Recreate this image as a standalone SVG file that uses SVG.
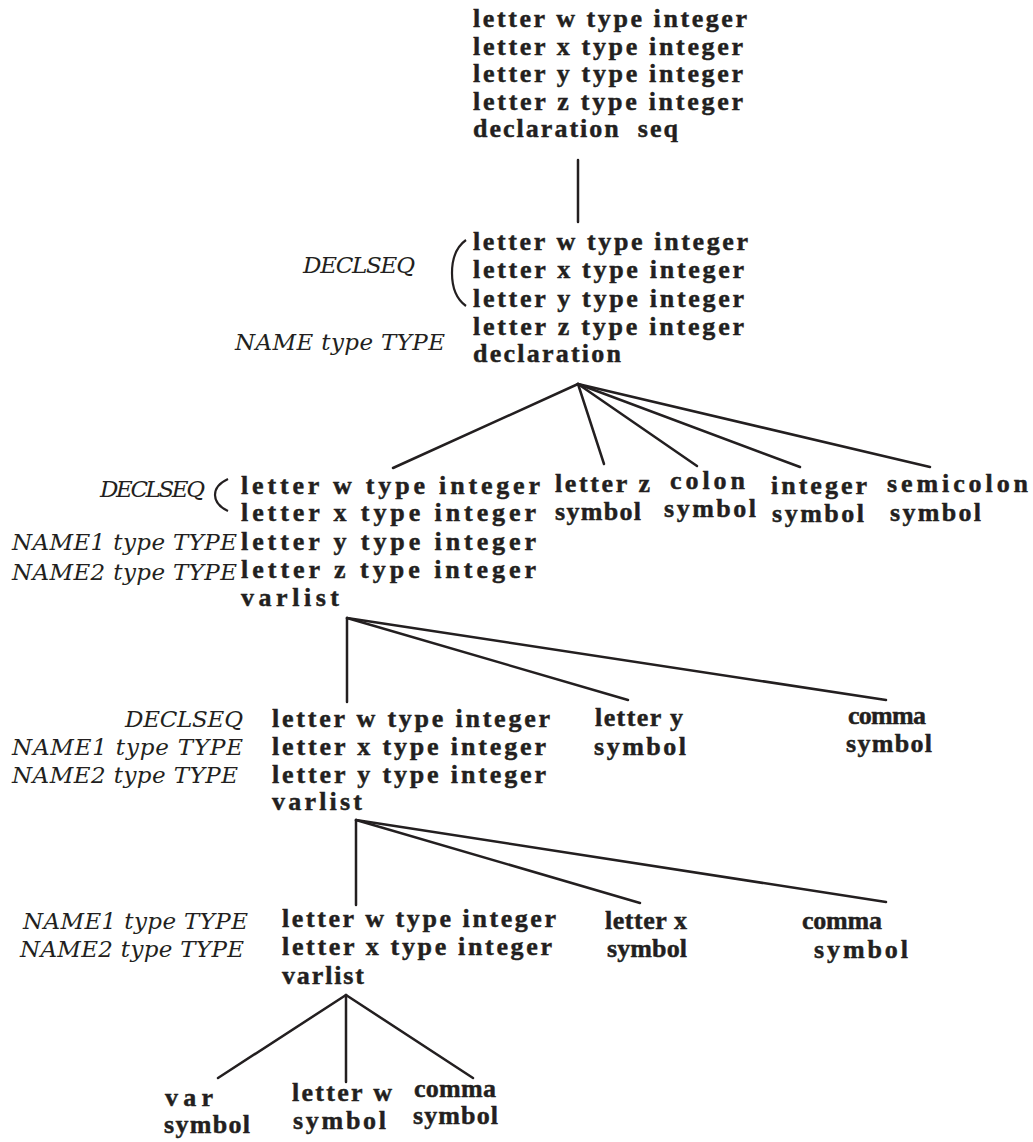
<svg xmlns="http://www.w3.org/2000/svg" width="1033" height="1142" viewBox="0 0 1033 1142">
<style>
.b{font-family:"Liberation Serif",serif;font-weight:bold;font-size:26px;fill:#231f20;stroke:#231f20;stroke-width:0.45}
.i{font-family:"DejaVu Serif",serif;font-style:italic;font-size:23px;fill:#231f20}
.c{stroke:#231f20;stroke-width:2.5;fill:none;stroke-linecap:round}
.p{stroke:#231f20;stroke-width:2.2;fill:none}
</style>
<rect width="1033" height="1142" fill="#fff"/>
<g id="connectors" class="c">
<line x1="578" y1="160" x2="578" y2="222"/>
<line x1="578" y1="384" x2="393" y2="468"/>
<line x1="578" y1="384" x2="604" y2="464"/>
<line x1="578" y1="384" x2="697" y2="466"/>
<line x1="578" y1="384" x2="800" y2="467"/>
<line x1="578" y1="384" x2="930" y2="467"/>
<line x1="347" y1="618" x2="347" y2="702"/>
<line x1="347" y1="618" x2="628" y2="700"/>
<line x1="347" y1="618" x2="886" y2="700"/>
<line x1="356" y1="820" x2="356" y2="905"/>
<line x1="356" y1="820" x2="640" y2="903"/>
<line x1="356" y1="820" x2="886" y2="902"/>
<line x1="346" y1="995" x2="218" y2="1078"/>
<line x1="346" y1="995" x2="346" y2="1082"/>
<line x1="346" y1="995" x2="473" y2="1078"/>
</g>
<g id="n-top">
<text class="b" x="473" y="27" textLength="274">letter w type integer</text>
<text class="b" x="473" y="55" textLength="270">letter x type integer</text>
<text class="b" x="473" y="82" textLength="270">letter y type integer</text>
<text class="b" x="473" y="110" textLength="270">letter z type integer</text>
<text class="b" x="473" y="137" textLength="205" xml:space="preserve">declaration  seq</text>
</g>
<g id="n-decl">
<text class="i" x="303" y="273" textLength="112">DECLSEQ</text>
<path class="p" d="M466 240 Q452 250 452 273 Q452 296 466 306"/>
<text class="i" x="235" y="350" textLength="210">NAME type TYPE</text>
<text class="b" x="473" y="250" textLength="275">letter w type integer</text>
<text class="b" x="473" y="278" textLength="271">letter x type integer</text>
<text class="b" x="473" y="307" textLength="271">letter y type integer</text>
<text class="b" x="473" y="335" textLength="271">letter z type integer</text>
<text class="b" x="473" y="362" textLength="148">declaration</text>
</g>
<g id="n-varlist1">
<text class="i" x="100" y="497" textLength="105">DECLSEQ</text>
<path class="p" d="M228 479 Q215 485 215 495 Q215 505 228 511"/>
<text class="i" x="12" y="550" textLength="225">NAME1 type TYPE</text>
<text class="i" x="12" y="580" textLength="225">NAME2 type TYPE</text>
<text class="b" x="241" y="494" textLength="299">letter w type integer</text>
<text class="b" x="241" y="521" textLength="295">letter x type integer</text>
<text class="b" x="241" y="550" textLength="295">letter y type integer</text>
<text class="b" x="241" y="578" textLength="295">letter z type integer</text>
<text class="b" x="241" y="606" textLength="98">varlist</text>
</g>
<g id="n-letterz">
<text class="b" x="555" y="492" textLength="95">letter z</text>
<text class="b" x="555" y="520" textLength="86">symbol</text>
</g>
<g id="n-colon">
<text class="b" x="670" y="489" textLength="75">colon</text>
<text class="b" x="664" y="517" textLength="92">symbol</text>
</g>
<g id="n-integer">
<text class="b" x="771" y="494" textLength="96">integer</text>
<text class="b" x="772" y="522" textLength="92">symbol</text>
</g>
<g id="n-semicolon">
<text class="b" x="887" y="492" textLength="141">semicolon</text>
<text class="b" x="890" y="521" textLength="91">symbol</text>
</g>
<g id="n-varlist2">
<text class="i" x="125" y="727" textLength="118">DECLSEQ</text>
<text class="i" x="12" y="755" textLength="231">NAME1 type TYPE</text>
<text class="i" x="12" y="783" textLength="226">NAME2 type TYPE</text>
<text class="b" x="272" y="727" textLength="278">letter w type integer</text>
<text class="b" x="272" y="755" textLength="274">letter x type integer</text>
<text class="b" x="272" y="783" textLength="274">letter y type integer</text>
<text class="b" x="272" y="810" textLength="90">varlist</text>
</g>
<g id="n-lettery">
<text class="b" x="595" y="726" textLength="88">letter y</text>
<text class="b" x="594" y="755" textLength="92">symbol</text>
</g>
<g id="n-comma1">
<text class="b" x="848" y="724" textLength="78">comma</text>
<text class="b" x="846" y="752" textLength="86">symbol</text>
</g>
<g id="n-varlist3">
<text class="i" x="23" y="929" textLength="225">NAME1 type TYPE</text>
<text class="i" x="20" y="957" textLength="224">NAME2 type TYPE</text>
<text class="b" x="282" y="927" textLength="274">letter w type integer</text>
<text class="b" x="282" y="955" textLength="270">letter x type integer</text>
<text class="b" x="282" y="984" textLength="82">varlist</text>
</g>
<g id="n-letterx">
<text class="b" x="605" y="929" textLength="82">letter x</text>
<text class="b" x="607" y="957" textLength="80">symbol</text>
</g>
<g id="n-comma2">
<text class="b" x="802" y="929" textLength="80">comma</text>
<text class="b" x="814" y="958" textLength="94">symbol</text>
</g>
<g id="n-var">
<text class="b" x="165" y="1106" textLength="48">var</text>
<text class="b" x="164" y="1133" textLength="86">symbol</text>
</g>
<g id="n-letterw">
<text class="b" x="292" y="1101" textLength="100">letter w</text>
<text class="b" x="293" y="1129" textLength="93">symbol</text>
</g>
<g id="n-comma3">
<text class="b" x="414" y="1097" textLength="82">comma</text>
<text class="b" x="413" y="1124" textLength="85">symbol</text>
</g>
</svg>
